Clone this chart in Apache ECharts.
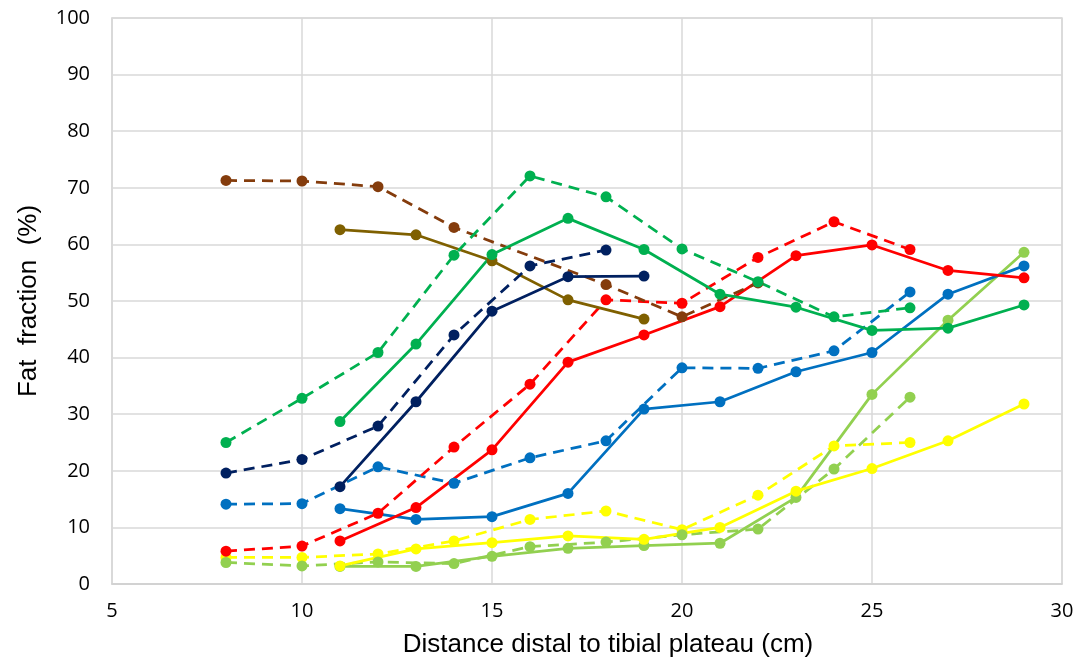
<!DOCTYPE html>
<html>
<head>
<meta charset="utf-8">
<script src="https://cdn.jsdelivr.net/npm/echarts@6/dist/echarts.min.js"></script>
<style>
  html, body { margin: 0; padding: 0; background: #fff; }
  #chart { width: 1078px; height: 660px; }
</style>
</head>
<body>
<div id="chart"></div>
<script>
// Distances (cm) sampled for each profile
const evenX = [8, 10, 12, 14, 16, 18, 20, 22, 24, 26];
const oddX = [11, 13, 15, 17, 19, 21, 23, 25, 27, 29];
const brownDashedX = [8, 10, 12, 14, 18, 20, 22];
const goldSolidX = [11, 13, 15, 17, 19];
const navyDashedX = [8, 10, 12, 14, 16, 18];
const navySolidX = [11, 13, 15, 17, 19];

// Fat fraction (%) per profile
const brownDashed = [71.3, 71.2, 70.2, 63.0, 52.9, 47.2, 53.2];
const goldSolid = [62.6, 61.7, 57.1, 50.2, 46.8];
const greenDashed = [25.0, 32.8, 40.9, 58.1, 72.1, 68.4, 59.2, 53.4, 47.2, 48.8];
const greenSolid = [28.7, 42.4, 58.2, 64.6, 59.1, 51.2, 48.9, 44.8, 45.2, 49.3];
const navyDashed = [19.6, 22.0, 27.9, 44.0, 56.2, 59.0];
const navySolid = [17.2, 32.2, 48.2, 54.3, 54.4];
const redDashed = [5.8, 6.7, 12.5, 24.2, 35.3, 50.2, 49.6, 57.7, 64.0, 59.1];
const redSolid = [7.6, 13.5, 23.7, 39.2, 44.0, 49.0, 58.0, 59.9, 55.4, 54.1];
const blueDashed = [14.1, 14.2, 20.7, 17.8, 22.3, 25.3, 38.2, 38.1, 41.2, 51.6];
const blueSolid = [13.3, 11.4, 11.9, 16.0, 30.9, 32.2, 37.5, 40.9, 51.2, 56.2];
const lightGreenDashed = [3.8, 3.2, 3.9, 3.6, 6.6, 7.4, 8.7, 9.7, 20.3, 33.0];
const lightGreenSolid = [3.1, 3.1, 4.9, 6.3, 6.8, 7.2, 15.3, 33.5, 46.6, 58.6];
const yellowDashed = [4.7, 4.7, 5.3, 7.6, 11.4, 12.9, 9.6, 15.7, 24.4, 25.0];
const yellowSolid = [3.2, 6.2, 7.3, 8.5, 7.9, 10.0, 16.4, 20.4, 25.3, 31.8];

const xAxisTitle = 'Distance distal to tibial plateau (cm)';
const yAxisTitle = 'Fat  fraction  (%)';

const pair = (xs, ys) => xs.map((x, i) => [x, ys[i]]);

function line(name, xs, ys, color, dashed) {
  return {
    name: name,
    type: 'line',
    data: pair(xs, ys),
    symbol: 'circle',
    symbolSize: 11,
    showSymbol: true,
    itemStyle: { color: color },
    lineStyle: { color: color, width: 2.75, type: dashed ? [11, 7] : 'solid' },
    emphasis: { disabled: true },
    animation: false
  };
}

const series = [
  line('yellow dashed', evenX, yellowDashed, '#FFFF00', true),
  line('light green dashed', evenX, lightGreenDashed, '#92D050', true),
  line('light green', oddX, lightGreenSolid, '#92D050', false),
  line('yellow', oddX, yellowSolid, '#FFFF00', false),
  line('blue dashed', evenX, blueDashed, '#0070C0', true),
  line('blue', oddX, blueSolid, '#0070C0', false),
  line('red dashed', evenX, redDashed, '#FF0000', true),
  line('red', oddX, redSolid, '#FF0000', false),
  line('brown dashed', brownDashedX, brownDashed, '#843C0C', true),
  line('gold', goldSolidX, goldSolid, '#7F6000', false),
  line('navy dashed', navyDashedX, navyDashed, '#002060', true),
  line('navy', navySolidX, navySolid, '#002060', false),
  line('green dashed', evenX, greenDashed, '#00B050', true),
  line('green', oddX, greenSolid, '#00B050', false)
];

const chart = echarts.init(document.getElementById('chart'), null, { renderer: 'canvas' });
chart.setOption({
  backgroundColor: '#ffffff',
  animation: false,
  grid: {
    left: 112, right: 16, top: 18, bottom: 76,
    outerBoundsMode: 'none',
    containLabel: false,
    show: true, borderColor: '#d9d9d9', borderWidth: 1.5
  },
  xAxis: {
    type: 'value',
    min: 5, max: 30, interval: 5,
    name: xAxisTitle,
    nameLocation: 'middle',
    nameGap: 48,
    nameTextStyle: {
      fontFamily: 'Liberation Sans', fontSize: 26, color: '#000',
      padding: [0, 0, 0, 42]
    },
    axisLine: { show: true, lineStyle: { color: '#d0d0d0', width: 1.5 } },
    axisTick: { show: false },
    axisLabel: { fontFamily: 'Open Sans', fontSize: 20, color: '#000', margin: 17 },
    splitLine: { show: true, lineStyle: { color: '#d9d9d9', width: 1.5 } }
  },
  yAxis: {
    type: 'value',
    min: 0, max: 100, interval: 10,
    name: yAxisTitle,
    nameLocation: 'middle',
    nameGap: 70,
    nameRotate: 90,
    nameTextStyle: { fontFamily: 'Liberation Sans', fontSize: 26, color: '#000' },
    axisLine: { show: true, lineStyle: { color: '#d9d9d9', width: 1.5 } },
    axisTick: { show: false },
    axisLabel: { fontFamily: 'Open Sans', fontSize: 20, color: '#000', margin: 22 },
    splitLine: { show: true, lineStyle: { color: '#d9d9d9', width: 1.5 } }
  },
  series: series
});
</script>
</body>
</html>
